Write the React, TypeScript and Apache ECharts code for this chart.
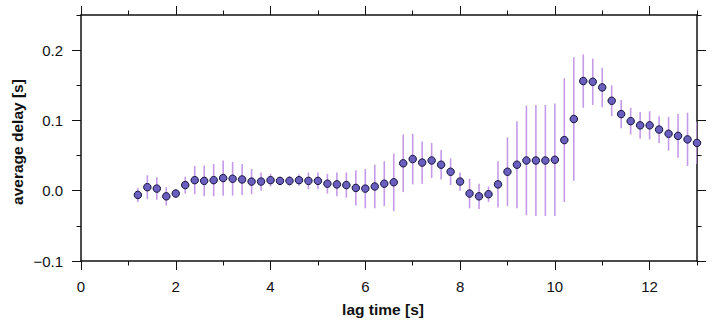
import React, { useEffect, useRef } from "react";
import * as echarts from "echarts";

// Lag times [s] at which the delay was estimated
const lagTimes = [
  1.2, 1.4, 1.6, 1.8, 2.0, 2.2, 2.4, 2.6, 2.8, 3.0,
  3.2, 3.4, 3.6, 3.8, 4.0, 4.2, 4.4, 4.6, 4.8, 5.0,
  5.2, 5.4, 5.6, 5.8, 6.0, 6.2, 6.4, 6.6, 6.8, 7.0,
  7.2, 7.4, 7.6, 7.8, 8.0, 8.2, 8.4, 8.6, 8.8, 9.0,
  9.2, 9.4, 9.6, 9.8, 10.0, 10.2, 10.4, 10.6, 10.8, 11.0,
  11.2, 11.4, 11.6, 11.8, 12.0, 12.2, 12.4, 12.6, 12.8, 13.0,
];

// Mean delay [s] per lag time
const avgDelay = [
  -0.006, 0.005, 0.003, -0.008, -0.004, 0.008, 0.015, 0.014, 0.015, 0.018,
  0.017, 0.016, 0.013, 0.013, 0.015, 0.014, 0.014, 0.015, 0.014, 0.014,
  0.010, 0.009, 0.008, 0.004, 0.003, 0.006, 0.010, 0.012, 0.039, 0.045,
  0.040, 0.043, 0.037, 0.027, 0.013, -0.004, -0.008, -0.005, 0.009, 0.027,
  0.037, 0.043, 0.043, 0.043, 0.044, 0.072, 0.102, 0.156, 0.155, 0.147,
  0.128, 0.109, 0.099, 0.093, 0.093, 0.087, 0.081, 0.078, 0.073, 0.068,
];

// Half-length of the uncertainty bar [s]
const delayErr = [
  0.010, 0.017, 0.016, 0.013, 0.006, 0.012, 0.020, 0.022, 0.023, 0.025,
  0.024, 0.022, 0.018, 0.013, 0.009, 0.005, 0.007, 0.008, 0.012, 0.012,
  0.014, 0.017, 0.018, 0.025, 0.028, 0.031, 0.032, 0.041, 0.041, 0.036,
  0.030, 0.025, 0.021, 0.019, 0.013, 0.021, 0.018, 0.011, 0.033, 0.049,
  0.062, 0.078, 0.079, 0.079, 0.080, 0.088, 0.088, 0.038, 0.033, 0.028,
  0.022, 0.020, 0.019, 0.019, 0.020, 0.019, 0.024, 0.031, 0.038, 0.030,
];

// Tick positions
const xMajorTicks = [0, 2, 4, 6, 8, 10, 12];
const xMinorTicks = [1, 3, 5, 7, 9, 11, 13];
const yMajorTicks = [-0.1, 0, 0.1, 0.2];
const yMinorTicks = [-0.05, 0.05, 0.15, 0.25];

const X_MIN = 0;
const X_MAX = 13;
const Y_MIN = -0.1;
const Y_MAX = 0.25;

const FONT = "'Liberation Sans', Arial, Helvetica, sans-serif";
const INK = "#111111";

const GRID_RECT = { left: 81, right: 17, top: 15, bottom: 67 };

function fmtY(v: number): string {
  const s = Math.abs(v).toFixed(1);
  return v < -1e-9 ? "\u2212" + s : s;
}

function xAxisDef(gridIndex: number, position: "top" | "bottom", ticks: number[], major: boolean, labels: boolean) {
  return {
    type: "value",
    gridIndex,
    position,
    min: X_MIN,
    max: X_MAX,
    axisLine: { show: major, onZero: false, lineStyle: { color: INK, width: 1.5 } },
    axisTick: {
      show: true,
      inside: false,
      length: major ? 9 : 4.5,
      customValues: ticks,
      lineStyle: { color: INK, width: 1 },
    },
    axisLabel: {
      show: labels,
      customValues: ticks,
      margin: 18,
      fontSize: 15,
      fontFamily: FONT,
      color: INK,
    },
    splitLine: { show: false },
  };
}

function yAxisDef(gridIndex: number, position: "left" | "right", ticks: number[], major: boolean, labels: boolean) {
  return {
    type: "value",
    gridIndex,
    position,
    min: Y_MIN,
    max: Y_MAX,
    axisLine: { show: major, onZero: false, lineStyle: { color: INK, width: 1.5 } },
    axisTick: {
      show: true,
      inside: false,
      length: major ? 9 : 4.5,
      customValues: ticks,
      lineStyle: { color: INK, width: 1 },
    },
    axisLabel: {
      show: labels,
      customValues: ticks,
      margin: 18,
      fontSize: 15,
      fontFamily: FONT,
      color: INK,
      formatter: (v: number) => fmtY(v),
    },
    splitLine: { show: false },
  };
}

export default function App() {
  const ref = useRef<HTMLDivElement>(null);

  useEffect(() => {
    if (!ref.current) return;
    const chart = echarts.init(ref.current, null, { renderer: "svg" });

    const points = lagTimes.map((t, i) => [t, avgDelay[i]]);
    const bars = lagTimes.map((t, i) => [t, avgDelay[i], delayErr[i]]);

    chart.setOption({
      animation: false,
      backgroundColor: "#ffffff",
      // grid 0 carries the data and the major ticks, grid 1 (same box) the minor ticks
      grid: [{ ...GRID_RECT }, { ...GRID_RECT }],
      xAxis: [
        xAxisDef(0, "bottom", xMajorTicks, true, true),
        xAxisDef(0, "top", xMajorTicks, true, false),
        xAxisDef(1, "bottom", xMinorTicks, false, false),
        xAxisDef(1, "top", xMinorTicks, false, false),
      ],
      yAxis: [
        yAxisDef(0, "left", yMajorTicks, true, true),
        yAxisDef(0, "right", yMajorTicks, true, false),
        yAxisDef(1, "left", yMinorTicks, false, false),
        yAxisDef(1, "right", yMinorTicks, false, false),
      ],
      series: [
        {
          type: "custom",
          xAxisIndex: 0,
          yAxisIndex: 0,
          clip: true,
          z: 1,
          data: bars,
          renderItem: (_params: any, api: any) => {
            const x = api.value(0);
            const y = api.value(1);
            const e = api.value(2);
            const lo = api.coord([x, y - e]);
            const hi = api.coord([x, y + e]);
            return {
              type: "line",
              shape: { x1: lo[0], y1: lo[1], x2: hi[0], y2: hi[1] },
              style: { stroke: "#c59ae8", lineWidth: 1.6 },
            };
          },
        },
        {
          type: "scatter",
          xAxisIndex: 0,
          yAxisIndex: 0,
          z: 2,
          symbol: "circle",
          symbolSize: 7.5,
          data: points,
          itemStyle: {
            color: "#6a5fbf",
            borderColor: "#15153a",
            borderWidth: 1,
            opacity: 1,
          },
        },
      ],
      graphic: [
        {
          type: "text",
          x: 17,
          y: 142,
          rotation: Math.PI / 2,
          style: {
            text: "average delay [s]",
            font: `bold 15.5px ${FONT}`,
            fill: INK,
            align: "center",
            verticalAlign: "middle",
          },
        },
        {
          type: "text",
          x: 383,
          y: 309,
          style: {
            text: "lag time [s]",
            font: `bold 15.5px ${FONT}`,
            fill: INK,
            align: "center",
            verticalAlign: "middle",
          },
        },
      ],
    });

    return () => chart.dispose();
  }, []);

  return (
    <div
      ref={ref}
      style={{ position: "fixed", left: 0, top: 0, width: 714, height: 328 }}
    />
  );
}
